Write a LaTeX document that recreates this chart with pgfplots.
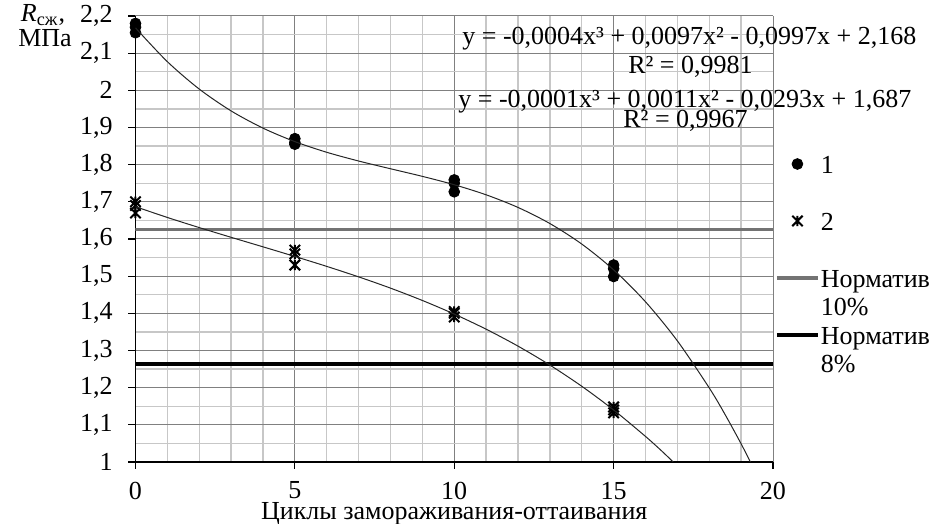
\documentclass[border=0pt]{standalone}
\usepackage{pgfplots}
\pgfplotsset{compat=1.18}
\usepackage{fontspec}
\setmainfont{Liberation Serif}

% Excel-like star: X with a vertical bar
\pgfdeclareplotmark{xstar}{%
  \pgfpathmoveto{\pgfqpoint{-\pgfplotmarksize}{-\pgfplotmarksize}}%
  \pgfpathlineto{\pgfqpoint{\pgfplotmarksize}{\pgfplotmarksize}}%
  \pgfpathmoveto{\pgfqpoint{-\pgfplotmarksize}{\pgfplotmarksize}}%
  \pgfpathlineto{\pgfqpoint{\pgfplotmarksize}{-\pgfplotmarksize}}%
  \pgfpathmoveto{\pgfqpoint{0pt}{-\pgfplotmarksize}}%
  \pgfpathlineto{\pgfqpoint{0pt}{\pgfplotmarksize}}%
  \pgfusepathqstroke}

\newcommand\fnt{\fontsize{13}{14}\selectfont}

\begin{document}
\begin{tikzpicture}
\path[use as bounding box] (-67.75pt,-31pt) rectangle ++(472pt,262pt);
\begin{axis}[
  at={(0,0)}, anchor=south west,
  scale only axis, width=318.75pt, height=223pt,
  xmin=0, xmax=20, ymin=1, ymax=2.2,
  xtick={0,5,10,15,20}, minor x tick num=4,
  ytick={1,1.1,1.2,1.3,1.4,1.5,1.6,1.7,1.8,1.9,2,2.1,2.2}, minor y tick num=1,
  grid=both,
  major grid style={black!50, line width=0.5pt},
  minor grid style={black!22, line width=0.7pt},
  axis lines=left, axis line style={-, black, line width=0.6pt},
  tick align=outside, major tick length=3.5pt, minor tick length=0pt,
  tick style={black, line width=0.6pt},
  /pgf/number format/use comma, /pgf/number format/assume math mode=true,
  ticklabel style={font=\fnt},
  yticklabel style={inner sep=0pt, xshift=-7.75pt},
  xticklabel style={inner sep=0pt, yshift=-6.25pt},
  xlabel={Циклы замораживания-оттаивания},
  xlabel style={at={(axis description cs:0.5,-0.130)}, anchor=base, inner sep=0pt, font=\fnt},
  clip mode=individual,
  legend style={at={(axis description cs:1.003,0.6906)}, anchor=north west,
    draw=none, fill=none, inner sep=0pt, outer sep=0pt,
    row sep=18.5pt, column sep=0.5pt,
    nodes={inner sep=0pt, text height=10pt, text depth=0pt, font=\fnt}},
  legend cell align=left,
  legend image code/.code={%
    \draw[#1] (0pt,0pt) -- (20.5pt,0pt);},
]
% series 1
\addplot[only marks, mark=*, mark size=2.7pt, black, forget plot] coordinates {
  (0,2.155) (0,2.170) (0,2.180)
  (5,1.855) (5,1.860) (5,1.870)
  (10,1.727) (10,1.750) (10,1.759)
  (15,1.499) (15,1.520) (15,1.530)
};
% series 2
\addplot[only marks, mark=xstar, mark size=2.6pt, black, line width=1pt, forget plot] coordinates {
  (0,1.670) (0,1.690) (0,1.700)
  (5,1.530) (5,1.560) (5,1.570)
  (10,1.390) (10,1.400) (10,1.405)
  (15,1.132) (15,1.140) (15,1.148)
};
% legend images for the two marker series (invisible box keeps the width)
\addlegendimage{legend image code/.code={%
  \path[draw opacity=0, fill opacity=0] (0pt,-3pt) rectangle (20.5pt,3pt);
  \path[draw=black, fill=black] plot[only marks, mark=*, mark size=2.7pt] coordinates {(10.25pt,0pt)};}}
\addlegendimage{legend image code/.code={%
  \path[draw opacity=0, fill opacity=0] (0pt,-3pt) rectangle (20.5pt,3pt);
  \path[draw=black, line width=1pt] plot[only marks, mark=xstar, mark size=2.6pt] coordinates {(10.25pt,0pt)};}}
% norms
\addplot[black!55, line width=1.6pt, mark=none] coordinates {(0,1.626) (20,1.626)};
\addplot[black, line width=2pt, mark=none] coordinates {(0,1.263) (20,1.263)};
% trend curves
\addplot[black!85, line width=0.5pt, mark=none, smooth, forget plot] coordinates {
  (0,2.168) (1,2.0771) (2,2.0034) (3,1.9446) (4,1.8983) (5,1.862)
  (6,1.8333) (7,1.8098) (8,1.7890) (9,1.7685) (10,1.746) (11,1.7189)
  (12,1.6849) (13,1.6416) (14,1.5864) (15,1.517) (16,1.4310) (17,1.3259)
  (18,1.1993) (18.5,1.1272) (19,1.0489) (19.29,1.0)
};
\addplot[black!85, line width=0.5pt, mark=none, smooth, forget plot] coordinates {
  (0,1.687) (1,1.6579) (2,1.6307) (3,1.6045) (4,1.5789) (5,1.553)
  (6,1.5263) (7,1.4981) (8,1.4678) (9,1.4346) (10,1.398) (11,1.3573)
  (12,1.3118) (13,1.2608) (14,1.2038) (15,1.14) (16,1.0688) (16.5,1.0303)
  (16.87,1.0)
};
\legend{1, 2,
  {\begin{tabular}[t]{@{}l@{}}Норматив\\10\%\end{tabular}},
  {\begin{tabular}[t]{@{}l@{}}Норматив\\8\%\end{tabular}}}
% axis title and trend equations
\node[anchor=base, font=\fnt] at (axis description cs:-0.1451,0.987) {\textit{R}\textsubscript{сж},};
\node[anchor=base, font=\fnt] at (axis description cs:-0.142,0.931) {МПа};
\node[anchor=base west, inner sep=0pt, font=\fnt] at (axis description cs:0.5122,0.935) {y = -0,0004x³ + 0,0097x² - 0,0997x + 2,168};
\node[anchor=base west, inner sep=0pt, font=\fnt] at (axis description cs:0.7725,0.870) {R² = 0,9981};
\node[anchor=base west, inner sep=0pt, font=\fnt] at (axis description cs:0.5059,0.794) {y = -0,0001x³ + 0,0011x² - 0,0293x + 1,687};
\node[anchor=base west, inner sep=0pt, font=\fnt] at (axis description cs:0.7647,0.749) {R² = 0,9967};
\end{axis}
\end{tikzpicture}
\end{document}
